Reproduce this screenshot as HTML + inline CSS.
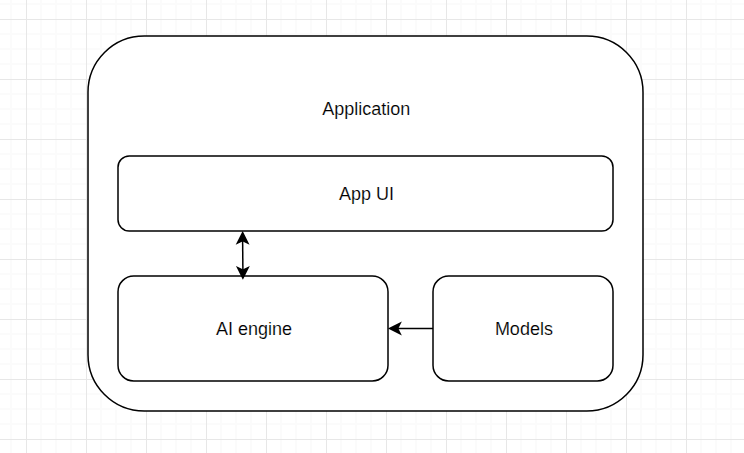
<!DOCTYPE html>
<html>
<head>
<meta charset="utf-8">
<title>Application diagram</title>
<style>
  html, body { margin: 0; padding: 0; background: #ffffff; overflow: hidden; }
  body { width: 744px; height: 453px; }
  svg { display: block; }
  text { font-family: "Liberation Sans", Arial, Helvetica, sans-serif; font-size: 18px; fill: #000000; text-anchor: middle; stroke:#ffffff; stroke-width:0.15px; }
</style>
</head>
<body>
<svg width="744" height="453" viewBox="0 0 744 453">
  <defs>
    <pattern id="grid" x="26" y="19" width="60" height="60" patternUnits="userSpaceOnUse">
      <path d="M 14 0 h 2 v 60 h -2 Z M 29 0 h 2 v 60 h -2 Z M 44 0 h 2 v 60 h -2 Z M 0 14 h 60 v 2 h -60 Z M 0 29 h 60 v 2 h -60 Z M 0 44 h 60 v 2 h -60 Z" fill="#fbfbfb" fill-rule="nonzero" shape-rendering="crispEdges"/>
      <path d="M 0 0 h 1 v 60 h -1 Z M 0 0 h 60 v 1 h -60 Z" fill="#e7e7e7" fill-rule="nonzero" shape-rendering="crispEdges"/>
    </pattern>
  </defs>
  <rect x="0" y="0" width="744" height="453" fill="#ffffff"/>
  <rect x="0" y="0" width="744" height="453" fill="url(#grid)"/>

  <g fill="#ffffff" stroke="#000000" stroke-width="1.5">
    <rect x="88" y="36" width="555" height="375" rx="56.25" ry="56.25"/>
    <rect x="118" y="156" width="495" height="75" rx="11.25" ry="11.25"/>
    <rect x="118" y="276" width="270" height="105" rx="15.75" ry="15.75"/>
    <rect x="433" y="276" width="180" height="105" rx="15.75" ry="15.75"/>
  </g>

  <g stroke="#000000" stroke-width="1.5" stroke-miterlimit="10">
    <!-- Models -> AI engine -->
    <path d="M 433 328.5 L 397.55 328.5" fill="none"/>
    <path d="M 389.68 328.5 L 400.18 323.25 L 397.55 328.5 L 400.18 333.75 Z" fill="#000000"/>
    <!-- App UI <-> AI engine -->
    <path d="M 242.62 240.55 L 242.9 270.2" fill="none"/>
    <path d="M 242.62 232.68 L 247.87 243.18 L 242.62 240.55 L 237.37 243.18 Z" fill="#000000"/>
    <path d="M 242.9 278.07 L 237.65 267.57 L 242.9 270.2 L 248.15 267.57 Z" fill="#000000"/>
  </g>

  <text x="366.35" y="115.1">Application</text>
  <text x="366.5" y="200.1">App UI</text>
  <text x="254" y="335.1">AI engine</text>
  <text x="523.9" y="335.2">Models</text>
</svg>
</body>
</html>
